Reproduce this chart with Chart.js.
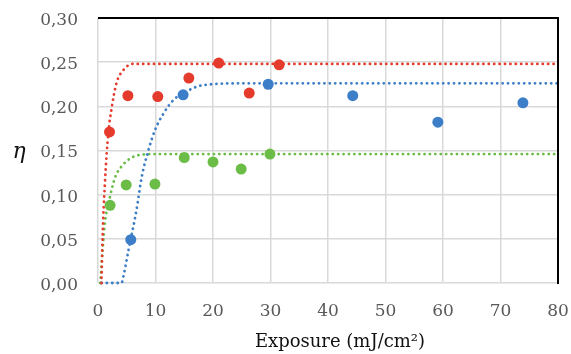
<!DOCTYPE html>
<html>
<head>
<meta charset="utf-8">
<script src="https://cdn.jsdelivr.net/npm/chart.js@4"></script>
<style>
  html, body { margin: 0; padding: 0; background: #fff; }
  #wrap { width: 571px; height: 354px; position: relative; }
</style>
</head>
<body>
<div id="wrap"><canvas id="chart"></canvas></div>
<script>
// measured points
const redX = [2, 5.2, 10.4, 15.8, 21, 26.3, 31.5];
const redY = [0.171, 0.212, 0.211, 0.232, 0.249, 0.215, 0.247];
const blueX = [5.7, 14.8, 29.6, 44.3, 59.1, 73.9];
const blueY = [0.049, 0.213, 0.225, 0.212, 0.182, 0.204];
const greenX = [2.1, 4.9, 9.9, 15, 20, 24.9, 29.9];
const greenY = [0.088, 0.111, 0.112, 0.142, 0.137, 0.129, 0.146];

// fitted curves
const redFitX = [0.6, 0.8, 1.2, 1.8, 2.4, 3.2, 4.4, 6.1, 10, 80];
const redFitY = [0, 0.052, 0.113, 0.170, 0.199, 0.226, 0.241, 0.248, 0.248, 0.248];
const blueFitX = [0.6, 4.1, 4.4, 5.3, 6.7, 7.6, 8.8, 9.9, 11.4, 13.1, 15.4, 18.3, 25, 80];
const blueFitY = [0, 0, 0.007, 0.037, 0.083, 0.120, 0.151, 0.173, 0.192, 0.207, 0.217, 0.224, 0.226, 0.226];
const greenFitX = [0.4, 0.8, 1.2, 2.1, 3.0, 4.1, 5.6, 7.3, 10, 80];
const greenFitY = [0, 0.037, 0.068, 0.098, 0.120, 0.132, 0.141, 0.145, 0.146, 0.146];

const xTicks = [0, 10, 20, 30, 40, 50, 60, 70, 80];
const yTickLabels = ['0,00', '0,05', '0,10', '0,15', '0,20', '0,25', '0,30'];
const xTitle = 'Exposure (mJ/cm²)';
const yTitle = 'η';

const RED = '#e53b2c';
const BLUE = '#3d7ec9';
const GREEN = '#6cbd47';
const SERIF = '"DejaVu Serif", serif';

function toPoints(xs, ys) {
    return xs.map((x, i) => ({ x: x, y: ys[i] }));
}

function pointSet(xs, ys, color) {
    return {
        data: toPoints(xs, ys),
        backgroundColor: color,
        borderColor: color,
        pointRadius: 5.5,
        pointBorderWidth: 0,
        showLine: false,
        order: 0
    };
}

function fitSet(xs, ys, color) {
    return {
        data: toPoints(xs, ys),
        borderColor: color,
        borderWidth: 2.8,
        borderDash: [0.1, 5.3],
        borderCapStyle: 'round',
        pointRadius: 0,
        showLine: true,
        cubicInterpolationMode: 'monotone',
        clip: 4,
        order: 1
    };
}

// no extra room for overflowing end labels
function noOverflow(scale) {
    scale.paddingLeft = 0;
    scale.paddingRight = 0;
    scale.paddingTop = 0;
    scale.paddingBottom = 0;
}

// frame on top/right plus the two axis titles
const framePlugin = {
    id: 'frame',
    afterDraw(chart) {
        const { ctx, chartArea: a } = chart;
        ctx.save();
        ctx.strokeStyle = '#000';
        ctx.lineWidth = 2;
        ctx.beginPath();
        ctx.moveTo(a.left, a.top);
        ctx.lineTo(a.right, a.top);
        ctx.lineTo(a.right, a.bottom + 1);
        ctx.stroke();

        ctx.fillStyle = '#111';
        ctx.textAlign = 'center';
        ctx.textBaseline = 'alphabetic';
        ctx.font = '18px ' + SERIF;
        ctx.fillText(xTitle, 340, 347);
        ctx.font = 'italic 22px ' + SERIF;
        ctx.fillText(yTitle, 19, 158);
        ctx.restore();
    }
};

new Chart(document.getElementById('chart'), {
    type: 'scatter',
    data: {
        datasets: [
            pointSet(redX, redY, RED),
            pointSet(blueX, blueY, BLUE),
            pointSet(greenX, greenY, GREEN),
            fitSet(redFitX, redFitY, RED),
            fitSet(blueFitX, blueFitY, BLUE),
            fitSet(greenFitX, greenFitY, GREEN)
        ]
    },
    options: {
        responsive: true,
        maintainAspectRatio: false,
        animation: false,
        layout: { padding: { left: 0, right: 13, top: 18, bottom: 0 } },
        plugins: {
            legend: { display: false },
            tooltip: { enabled: false }
        },
        scales: {
            x: {
                type: 'linear',
                min: 0,
                max: 80,
                afterBuildTicks: (scale) => { scale.ticks = xTicks.map(v => ({ value: v })); },
                afterFit: (scale) => { scale.height = 71; noOverflow(scale); },
                grid: { color: '#d9d9d9', lineWidth: 1.5, drawTicks: false },
                border: { display: false },
                ticks: {
                    padding: 18,
                    color: '#595959',
                    font: { family: SERIF, size: 17 },
                    maxRotation: 0
                }
            },
            y: {
                type: 'linear',
                min: 0,
                max: 0.3,
                afterBuildTicks: (scale) => { scale.ticks = yTickLabels.map((_, i) => ({ value: i * 0.05 })); },
                afterFit: (scale) => { scale.width = 98; noOverflow(scale); },
                grid: { color: '#d9d9d9', lineWidth: 1.5, drawTicks: false },
                border: { display: false },
                ticks: {
                    padding: 20,
                    color: '#595959',
                    font: { family: SERIF, size: 17, lineHeight: '5px' },
                    // empty first line nudges the label a few px below its grid line
                    callback: (value, index) => ['', yTickLabels[index]]
                }
            }
        }
    },
    plugins: [framePlugin]
});
</script>
</body>
</html>
